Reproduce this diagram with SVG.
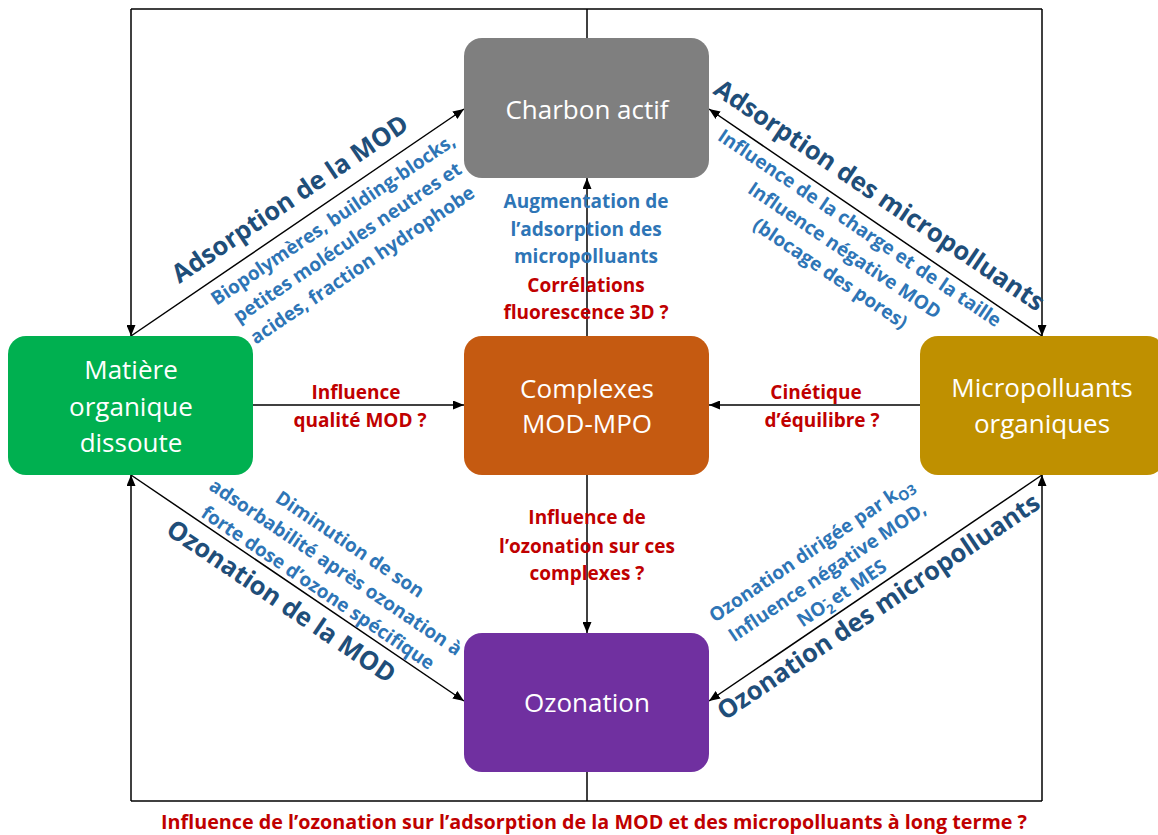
<svg xmlns="http://www.w3.org/2000/svg" width="1158" height="835" viewBox="0 0 1158 835">
<defs>
<marker id="ah" markerUnits="userSpaceOnUse" markerWidth="11" markerHeight="9" refX="11" refY="4.5" orient="auto">
<path d="M0,0 L11,4.5 L0,9 z" fill="#000"/>
</marker>
<style>
text{font-family:"Open Sans","Liberation Sans",sans-serif;}
.node text{fill:#fff;font-size:26px;text-anchor:middle;}
.ln{stroke:#000;stroke-width:1.5;fill:none;}
.arr{stroke:#000;stroke-width:1.5;fill:none;marker-end:url(#ah);}
.title{fill:#1f4e79;font-size:25.5px;font-weight:700;text-anchor:middle;}
.blue{fill:#2e75b6;font-size:19px;font-weight:700;text-anchor:middle;}
.red{fill:#c00000;font-size:19px;font-weight:700;text-anchor:middle;}
</style>
</defs>
<rect width="1158" height="835" fill="#fff"/>

<g id="connectors">
<polyline class="ln" points="131,801 1042,801"/>
<polyline class="ln" points="131,9 1042,9"/>
<line class="ln" x1="587" y1="9" x2="587" y2="38"/>
<line class="ln" x1="587" y1="772" x2="587" y2="801"/>
<line class="arr" x1="131" y1="9" x2="131" y2="336"/>
<line class="arr" x1="1042" y1="9" x2="1042" y2="336"/>
<line class="arr" x1="131" y1="801" x2="131" y2="475"/>
<line class="arr" x1="1042" y1="801" x2="1042" y2="475"/>
<line class="arr" x1="131" y1="336" x2="464" y2="109"/>
<line class="arr" x1="1042" y1="336" x2="709" y2="109"/>
<line class="arr" x1="131" y1="475" x2="464" y2="701"/>
<line class="arr" x1="1042" y1="475" x2="709" y2="701"/>
<line class="arr" x1="587" y1="336" x2="587" y2="178"/>
<line class="arr" x1="587" y1="475" x2="587" y2="633"/>
<line class="arr" x1="253" y1="405" x2="464" y2="405"/>
<line class="arr" x1="920" y1="405" x2="709" y2="405"/>
</g>

<g id="node-charbon" class="node">
<rect x="464" y="38" width="245" height="140" rx="18" fill="#7f7f7f"/>
<text x="587" y="119">Charbon actif</text>
</g>
<g id="node-mod" class="node">
<rect x="8" y="336" width="245" height="139" rx="18" fill="#00b050"/>
<text x="131" y="379">Matière</text>
<text x="131" y="416">organique</text>
<text x="131" y="452">dissoute</text>
</g>
<g id="node-complexes" class="node">
<rect x="464" y="336" width="245" height="139" rx="18" fill="#c55a11"/>
<text x="587" y="398">Complexes</text>
<text x="587" y="433">MOD-MPO</text>
</g>
<g id="node-mpo" class="node">
<rect x="920" y="336" width="245" height="139" rx="18" fill="#bf9000"/>
<text x="1042" y="397">Micropolluants</text>
<text x="1042" y="433">organiques</text>
</g>
<g id="node-ozonation" class="node">
<rect x="464" y="633" width="245" height="139" rx="18" fill="#7030a0"/>
<text x="587" y="712">Ozonation</text>
</g>

<g id="labels">
<g transform="translate(297.5,222.5) rotate(-34)">
<text class="title" x="7" y="-15">Adsorption de la MOD</text>
<text class="blue" x="31" y="24">Biopolymères, building-blocks,</text>
<text class="blue" x="30" y="51">petites molécules neutres et</text>
<text class="blue" x="30" y="78">acides, fraction hydrophobe</text>
</g>
<g transform="translate(875.5,222.5) rotate(34)">
<text class="title" x="-12" y="-16">Adsorption des micropolluants</text>
<text class="blue" x="-10" y="20">Influence de la charge et de la taille</text>
<text class="blue" x="-10" y="47">Influence négative MOD</text>
<text class="blue" x="-9" y="74">(blocage des pores)</text>
</g>
<g transform="translate(297.5,588) rotate(34)">
<text class="title" x="-6" y="29">Ozonation de la MOD</text>
<text class="blue" x="19" y="-59">Diminution de son</text>
<text class="blue" x="20" y="-32">adsorbabilité après ozonation à</text>
<text class="blue" x="17" y="-5">forte dose d’ozone spécifique</text>
</g>
<g transform="translate(875.5,588) rotate(-34)">
<text class="title" x="-8" y="26" font-size="25px">Ozonation des micropolluants</text>
<text class="blue" x="-32" y="-61">Ozonation dirigée par k<tspan font-size="14" dy="5">O3</tspan></text>
<text class="blue" x="-31" y="-34">Influence négative MOD,</text>
<text class="blue" x="-31" y="-8">NO<tspan font-size="13" dy="5">2</tspan><tspan font-size="13" dx="-7" dy="-12">-</tspan><tspan dy="7"> et MES</tspan></text>
</g>

<text class="blue" x="586" y="208">Augmentation de</text>
<text class="blue" x="586" y="236">l’adsorption des</text>
<text class="blue" x="586" y="263">micropolluants</text>
<text class="red" x="586" y="292">Corrélations</text>
<text class="red" x="586" y="319">fluorescence 3D ?</text>

<text class="red" x="356" y="399">Influence</text>
<text class="red" x="360" y="427">qualité MOD ?</text>
<text class="red" x="816" y="399">Cinétique</text>
<text class="red" x="822" y="427">d’équilibre ?</text>

<text class="red" x="587" y="524">Influence de</text>
<text class="red" x="587" y="553">l’ozonation sur ces</text>
<text class="red" x="587" y="580">complexes ?</text>

<text class="red" x="594" y="829" font-size="18px" textLength="866" lengthAdjust="spacingAndGlyphs">Influence de l’ozonation sur l’adsorption de la MOD et des micropolluants à long terme ?</text>
</g>
</svg>
